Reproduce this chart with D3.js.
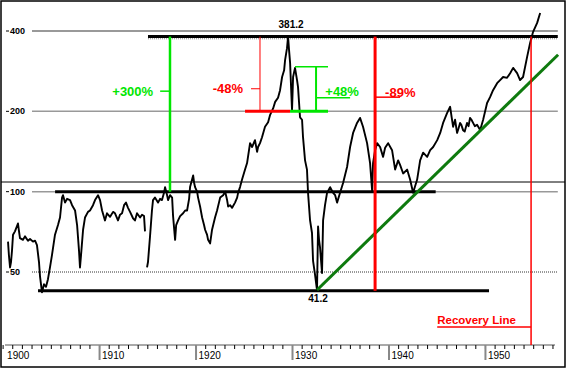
<!DOCTYPE html>
<html>
<head>
<meta charset="utf-8">
<script src="https://cdn.jsdelivr.net/npm/d3@7"></script>
<style>
  body { margin: 0; background: #fff; }
  svg { display: block; font-family: "Liberation Sans", Arial, sans-serif; }
</style>
</head>
<body>
<div id="chart"></div>
<script>
// --- Dow Jones 1900-1955, log scale ---
const dowYears = [
  1900.51, 1900.6, 1900.72, 1900.82, 1900.92, 1901.03, 1901.23, 1901.54, 1901.65, 1901.75,
  1902.06, 1902.27, 1902.58, 1902.79, 1903.10, 1903.31, 1903.51, 1903.72, 1903.83, 1904.03,
  1904.24, 1904.45, 1904.65, 1904.86, 1905.07, 1905.38, 1905.69, 1905.90, 1906.11, 1906.21,
  1906.42, 1906.63, 1906.94, 1907.15, 1907.46, 1907.67, 1907.87, 1907.97, 1908.08, 1908.29,
  1908.49, 1908.80, 1909.01, 1909.32, 1909.53, 1909.84, 1910.05, 1910.26, 1910.56, 1910.77,
  1911.09, 1911.40, 1911.60, 1911.91, 1912.12, 1912.33, 1912.54, 1912.74, 1912.95, 1913.16,
  1913.47, 1913.67, 1913.88, 1914.20, 1914.40, 1914.61, 1914.71, 1914.80,
  1914.92, 1915.02, 1915.23, 1915.43, 1915.54, 1915.74, 1916.06, 1916.27, 1916.47, 1916.68,
  1916.79, 1917.00, 1917.10, 1917.31, 1917.52, 1917.62, 1917.83, 1917.94, 1918.14, 1918.35,
  1918.66, 1918.87, 1919.07, 1919.28, 1919.38, 1919.59, 1919.70, 1919.80, 1919.90, 1920.11,
  1920.21, 1920.42, 1920.63, 1920.83, 1920.94, 1921.14, 1921.25, 1921.46, 1921.66, 1921.97,
  1922.18, 1922.50, 1922.81, 1923.02, 1923.22, 1923.33, 1923.53, 1923.74, 1924.04, 1924.26,
  1924.36, 1924.56, 1924.77, 1925.08, 1925.29, 1925.60, 1925.81, 1926.11, 1926.33, 1926.43,
  1926.63, 1926.84, 1927.15, 1927.47, 1927.68, 1927.99, 1928.20, 1928.50, 1928.71, 1928.92,
  1929.13, 1929.23, 1929.43, 1929.54, 1929.64, 1929.75, 1929.95, 1930.06, 1930.26, 1930.47,
  1930.57, 1930.78, 1930.99, 1931.09, 1931.30, 1931.50, 1931.61, 1931.82, 1932.02, 1932.13,
  1932.33, 1932.54, 1932.65, 1932.75, 1932.85, 1933.06, 1933.17, 1933.37, 1933.58, 1933.90,
  1934.21, 1934.42, 1934.62, 1934.93, 1935.25, 1935.66, 1935.97, 1936.28, 1936.69, 1937.00,
  1937.31, 1937.73, 1938.04, 1938.25, 1938.35, 1938.56, 1938.77, 1939.08, 1939.39, 1939.60,
  1939.91, 1940.32, 1940.64, 1940.95, 1941.15, 1941.47, 1941.88, 1942.19, 1942.50, 1942.92,
  1943.23, 1943.54, 1943.96, 1944.27, 1944.58, 1945.00, 1945.31, 1945.61, 1946.02, 1946.34,
  1946.50, 1946.65, 1946.85, 1947.06, 1947.20, 1947.37, 1947.50, 1947.68, 1947.85, 1948.09,
  1948.25, 1948.40, 1948.55, 1948.72, 1948.90, 1949.13, 1949.30, 1949.45,
  1949.76, 1950.17, 1950.48, 1950.79, 1951.21, 1951.52, 1951.83, 1952.24, 1952.56, 1952.87,
  1953.28, 1953.59, 1953.90, 1954.32, 1954.63, 1954.94, 1955.36, 1955.67
];
const dowValues = [
  65, 58, 52, 54.5, 60, 69, 71, 76, 71, 67,
  66, 68, 65.5, 66.5, 65, 65.5, 63, 54.5, 48, 42,
  45, 44, 47, 52, 58, 69, 75, 80, 95, 97,
  91, 94, 93, 89, 85, 75, 60, 52, 58, 72,
  80, 84, 85, 89, 93, 97, 93, 85, 78, 83,
  80.5, 84, 83, 78, 82, 83, 89, 91, 87, 84,
  79.5, 78, 83, 80, 82, 81, 71, null,
  52, 54.5, 68, 85, 93, 95, 91, 94, 93, 99,
  104, 97, 93, 97, 95, 81, 66, 75, 78, 81,
  83, 85, 85, 94, 104, 111, 115, 108, 104, 100,
  95, 88, 80, 75, 72, 69, 66, 64, 72, 80,
  85, 95, 97, 100, 93, 88, 89, 87, 91, 95,
  99, 104, 111, 121, 128, 152, 147, 156, 141, 147,
  152, 160, 175, 182, 194, 205, 217, 225, 240, 269,
  285, 311, 345, 381.2, 340, 304, 202, 269, 291, 262,
  247, 190, 186, 160, 131, 121, 99, 78, 70, 55,
  49, 42.8, 74, 66, 62, 49.6, 78, 89, 99, 104,
  99, 97, 91, 99, 108, 124, 147, 166, 181, 189,
  175, 152, 128, 101, 128, 143, 152, 147, 135, 146,
  152, 143, 121, 131, 126, 117, 121, 111, 99, 111,
  131, 140, 135, 143, 147, 156, 166, 181, 197, 208,
  190, 175, 186, 166, 172, 181, 178, 170, 168, 181,
  176, 189, 186, 181, 176, 178, 174, 170,
  186, 215, 226, 240, 255, 262, 269, 267, 278, 291,
  278, 262, 269, 320, 361, 397, 429, 467
];

const yTicks = [50, 100, 200, 400];
const yGridColors = ["#333", "#999", "#999", "#777"];
const xLabelYears = [1900, 1910, 1920, 1930, 1940, 1950];
const xMinorYears = d3.range(1900, 1958);

// levels and annotation values
const topLevel = 381.2, midLevel = 100, lowLevel = 42.5, lowLabel = 41.2;
const topSpan = [1915.02, 1957.5];
const midSpan = [1905.39, 1944.84];
const lowSpan = [1903.62, 1950.37];
const trendStart = [1932.54, 42.8], trendEnd = [1957.53, 326];
const rise300 = { year: 1917.3, tickFrom: 1916.28, tickAt: 238, label: "+300%" };
const drop48 = { year: 1926.63, from: 381.2, to: 200, barFrom: 1925.08, barTo: 1929.75,
                 tickFrom: 1925.7, tickAt: 243, label: "-48%" };
const rise48 = { year: 1932.44, base: 200, top: 294, barFrom: 1929.75, barTo: 1933.68,
                 topFrom: 1930.26, tickAt: 225, tickTo: 1935.97, labelYear: 1933.4, label: "+48%" };
const drop89 = { year: 1938.56, tickTo: 1941.15, tickAt: 226, labelYear: 1939.6, label: "-89%" };
const recovery = { year: 1954.73, underlineFrom: 1945.0, label: "Recovery Line" };

const W = 567, H = 370;
const plotLeft = 32, axisY = 345;

const svg = d3.select("#chart").append("svg")
    .attr("width", W)
    .attr("height", H);

const x = d3.scaleLinear().domain([1900, 1957.5]).range([3.1, 557.8]);
const y = d3.scaleLog().domain([50, 400]).range([272, 31]);

const data = dowYears.map((yr, i) => ({ year: yr, v: dowValues[i] }));

// frame
svg.append("rect")
    .attr("x", 1).attr("y", 1)
    .attr("width", 564).attr("height", 366)
    .attr("fill", "none").attr("stroke", "#000").attr("stroke-width", 1.5);

// horizontal separator
svg.append("line")
    .attr("x1", 1).attr("x2", 565).attr("y1", 182).attr("y2", 182)
    .attr("stroke", "#000").attr("stroke-width", 1);

// y gridlines + labels
yTicks.forEach((t, i) => {
    svg.append("line")
        .attr("x1", plotLeft).attr("x2", x.range()[1])
        .attr("y1", y(t)).attr("y2", y(t))
        .attr("stroke", yGridColors[i])
        .attr("stroke-width", t === 50 ? 1 : 1.5)
        .attr("stroke-dasharray", t === 50 ? "1,1" : null);
    svg.append("line")
        .attr("x1", 6).attr("x2", 9).attr("y1", y(t)).attr("y2", y(t))
        .attr("stroke", "#000");
    svg.append("text")
        .attr("x", 10).attr("y", y(t))
        .attr("dy", "0.35em")
        .attr("font-size", 9).attr("font-weight", "bold")
        .text(t);
});

// x axis
svg.append("line")
    .attr("x1", 5).attr("x2", 555).attr("y1", axisY).attr("y2", axisY)
    .attr("stroke", "#555");
svg.selectAll(".minor").data(xMinorYears).enter().append("line")
    .attr("x1", d => x(d)).attr("x2", d => x(d))
    .attr("y1", axisY).attr("y2", axisY + 4)
    .attr("stroke", "#000");
svg.selectAll(".major").data(xLabelYears.filter(d => d > 1900)).enter().append("line")
    .attr("x1", d => x(d)).attr("x2", d => x(d))
    .attr("y1", axisY).attr("y2", axisY + 15)
    .attr("stroke", "#888").attr("stroke-width", 2);
svg.selectAll(".xlab").data(xLabelYears).enter().append("text")
    .attr("x", d => x(d) + (d === 1900 ? 4 : 2.5))
    .attr("y", 359)
    .attr("font-size", 10)
    .text(d => d);

// support / resistance levels
function hLevel(span, v, color, w) {
    svg.append("line")
        .attr("x1", x(span[0])).attr("x2", x(span[1]))
        .attr("y1", y(v)).attr("y2", y(v))
        .attr("stroke", color).attr("stroke-width", w);
}
hLevel(topSpan, topLevel, "#000", 3);
svg.append("line")
    .attr("x1", x(topSpan[0])).attr("x2", x(topSpan[1]))
    .attr("y1", y(topLevel) + 2.2).attr("y2", y(topLevel) + 2.2)
    .attr("stroke", "#666").attr("stroke-width", 0.8).attr("stroke-dasharray", "1,1");
hLevel(midSpan, midLevel, "#000", 3);
hLevel(lowSpan, lowLevel, "#000", 3);

// price line
svg.append("path")
    .datum(data)
    .attr("fill", "none")
    .attr("stroke", "#000")
    .attr("stroke-width", 1.9)
    .attr("stroke-linejoin", "round")
    .attr("d", d3.line()
        .defined(d => d.v != null)
        .x(d => x(d.year))
        .y(d => y(d.v)));

// trend line
svg.append("line")
    .attr("x1", x(trendStart[0])).attr("y1", y(trendStart[1]))
    .attr("x2", x(trendEnd[0])).attr("y2", y(trendEnd[1]))
    .attr("stroke", "#0e7a0e").attr("stroke-width", 3);

const lime = "#00e600", red = "#ff0000";

function seg(x1, y1, x2, y2, color, w) {
    svg.append("line")
        .attr("x1", x1).attr("y1", y1).attr("x2", x2).attr("y2", y2)
        .attr("stroke", color).attr("stroke-width", w);
}
function label(px, py, txt, color, anchor, size) {
    svg.append("text")
        .attr("x", px).attr("y", py)
        .attr("dy", "0.35em")
        .attr("text-anchor", anchor)
        .attr("font-size", size || 13)
        .attr("font-weight", "bold")
        .attr("fill", color)
        .text(txt);
}

// +300%
seg(x(rise300.year), y(topLevel), x(rise300.year), y(midLevel), lime, 2.5);
seg(x(rise300.tickFrom), y(rise300.tickAt), x(rise300.year), y(rise300.tickAt), lime, 1.5);
label(x(rise300.tickFrom) - 7, y(rise300.tickAt), rise300.label, lime, "end");

// -48%
seg(x(drop48.year), y(drop48.from), x(drop48.year), y(drop48.to), red, 1);
seg(x(drop48.barFrom), y(drop48.to), x(drop48.barTo), y(drop48.to), red, 3);
seg(x(drop48.tickFrom), y(drop48.tickAt), x(drop48.year), y(drop48.tickAt), red, 1);
label(x(drop48.tickFrom) - 8, y(drop48.tickAt), drop48.label, red, "end");

// +48%
seg(x(rise48.barFrom), y(rise48.base), x(rise48.barTo), y(rise48.base), lime, 3);
seg(x(rise48.year), y(rise48.base), x(rise48.year), y(rise48.top), lime, 2);
seg(x(rise48.topFrom), y(rise48.top), x(rise48.barTo), y(rise48.top), lime, 1.5);
seg(x(rise48.year), y(rise48.tickAt), x(rise48.tickTo), y(rise48.tickAt), lime, 1.5);
label(x(rise48.labelYear), y(rise48.tickAt) - 6, rise48.label, lime, "start");

// -89%
seg(x(drop89.year), y(topLevel), x(drop89.year), y(lowLevel), red, 3);
seg(x(drop89.year), y(drop89.tickAt), x(drop89.tickTo), y(drop89.tickAt), red, 1.5);
label(x(drop89.labelYear), y(drop89.tickAt) - 4.5, drop89.label, red, "start");

// Recovery line
seg(x(recovery.year), y(topLevel), x(recovery.year), axisY, red, 1.5);
seg(x(recovery.underlineFrom), 327, x(recovery.year), 327, red, 1.5);
svg.append("text")
    .attr("x", x(recovery.underlineFrom)).attr("y", 324)
    .attr("font-size", 11.5).attr("font-weight", "bold")
    .attr("fill", red)
    .text(recovery.label);

// value labels
const peak = data.find(d => d.v === topLevel);
const peakLbl = svg.append("g")
    .attr("transform", `translate(${x(peak.year) + 3},${y(topLevel) - 12})`);
peakLbl.append("rect")
    .attr("x", -14).attr("y", -6).attr("width", 28).attr("height", 11)
    .attr("fill", "#fff");
peakLbl.append("text")
    .attr("text-anchor", "middle").attr("dy", "0.35em")
    .attr("font-size", 10).attr("font-weight", "bold")
    .text(topLevel);

svg.append("text")
    .attr("x", x(trendStart[0]) + 1).attr("y", y(lowLevel) + 8)
    .attr("dy", "0.35em")
    .attr("text-anchor", "middle")
    .attr("font-size", 10).attr("font-weight", "bold")
    .text(lowLabel);
</script>
</body>
</html>
